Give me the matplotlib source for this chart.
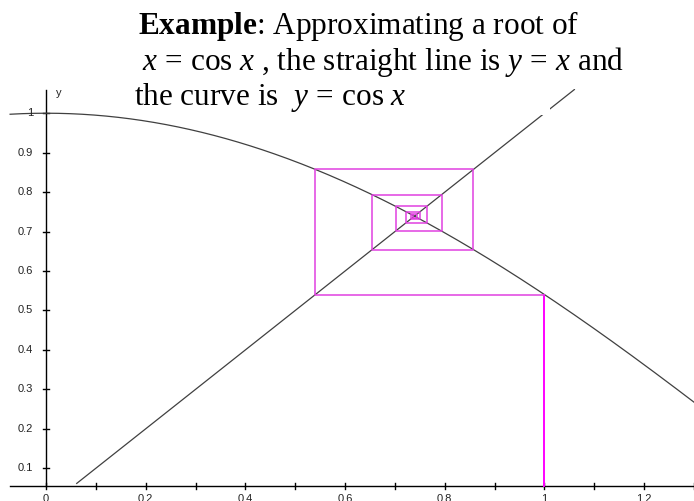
import numpy as np
import matplotlib
matplotlib.use("Agg")
import matplotlib.pyplot as plt
from matplotlib.patches import Rectangle

plt.rcParams['mathtext.fontset'] = 'custom'
plt.rcParams['mathtext.rm'] = 'Liberation Serif'
plt.rcParams['mathtext.it'] = 'Liberation Serif:italic'
plt.rcParams['mathtext.bf'] = 'Liberation Serif:bold'

# fixed-point iterates x_{n+1} = cos(x_n), starting at x0 = 1
iterates = [1.0, 0.5403, 0.8576, 0.6543, 0.7935, 0.7014, 0.7640,
            0.7221, 0.7504, 0.7314, 0.7442, 0.7356, 0.7414]
x_ticks = [0.0, 0.1, 0.2, 0.3, 0.4, 0.5, 0.6, 0.7, 0.8, 0.9, 1.0, 1.1, 1.2, 1.3]
x_labels = ['0', '', '0.2', '', '0.4', '', '0.6', '', '0.8', '', '1', '', '1.2', '']
y_ticks = [0.1, 0.2, 0.3, 0.4, 0.5, 0.6, 0.7, 0.8, 0.9, 1.0]
y_labels = ['0.1', '0.2', '0.3', '0.4', '0.5', '0.6', '0.7', '0.8', '0.9', '1']

W, H = 694, 501
fig = plt.figure(figsize=(W / 100, H / 100), dpi=100)
ax = fig.add_axes([0, 0, 1, 1])
ax.set_xlim(-0.0923, 1.3)
ax.set_ylim(0.017, 1.287)
ax.axis('off')

def fx(p):
    return p / W

def fy(p):
    return 1 - p / H

axis_y = 0.055
x_left = -0.072
top = 1.06

# axes drawn through the data
ax.plot([x_left, 1.3], [axis_y, axis_y], color='black', lw=1.0)
ax.plot([0, 0], [axis_y, top], color='black', lw=1.0)
tick_dx = 3 / 498.5
tick_dy = 3 / 394.4
for t, lab in zip(x_ticks, x_labels):
    ax.plot([t, t], [axis_y - tick_dy, axis_y + tick_dy], color='black', lw=1.0)
    if lab:
        ax.text(t, axis_y - 2.6 * tick_dy, lab, ha='center', va='top',
                fontsize=8, family='Liberation Sans', color='#222222')
for t, lab in zip(y_ticks, y_labels):
    ax.plot([-tick_dx, tick_dx], [t, t], color='black', lw=1.0)
    ax.text(-4.3 * tick_dx, t, lab, ha='right', va='center',
            fontsize=8, family='Liberation Sans', color='#222222')
ax.text(0.026, 1.05, 'y', ha='center', va='center',
        fontsize=8, family='Liberation Sans', color='#222222')

# y = cos x and y = x
xs = np.linspace(x_left, 1.3, 400)
ax.plot(xs, np.cos(xs), color='#404040', lw=0.9)
ax.plot([0.0616, top], [0.0616, top], color='#404040', lw=0.9)

# cobweb
ax.plot([iterates[0], iterates[0]], [axis_y, iterates[1]], color='#ff00ff', lw=1.4)
px, py = [iterates[0]], [iterates[1]]
for a, b in zip(iterates[1:-1], iterates[2:]):
    px += [a, a]
    py += [a, b]
ax.plot(px, py, color='#e040e0', lw=1.1)

# text backgrounds
fig.patches.append(Rectangle((fx(128), fy(89)), fx(640 - 128), 89 / H,
                             transform=fig.transFigure, facecolor='white',
                             edgecolor='none', zorder=5))
fig.patches.append(Rectangle((fx(125), fy(115)), fx(550 - 125), 26 / H,
                             transform=fig.transFigure, facecolor='white',
                             edgecolor='none', zorder=5))

fs = 22.5
fig.text(fx(138), fy(34), r'$\mathbf{Example}$: Approximating a root of',
         fontsize=fs, family='Liberation Serif', va='baseline', zorder=6)
fig.text(fx(142), fy(70), r'$x\,=\,\cos\,x$ , the straight line is $y\,=\,x$ and',
         fontsize=fs, family='Liberation Serif', va='baseline', zorder=6)
fig.text(fx(134), fy(105), r'the curve is  $y\,=\,\cos\,x$',
         fontsize=fs, family='Liberation Serif', va='baseline', zorder=6)

fig.savefig('out.png', dpi=100)
